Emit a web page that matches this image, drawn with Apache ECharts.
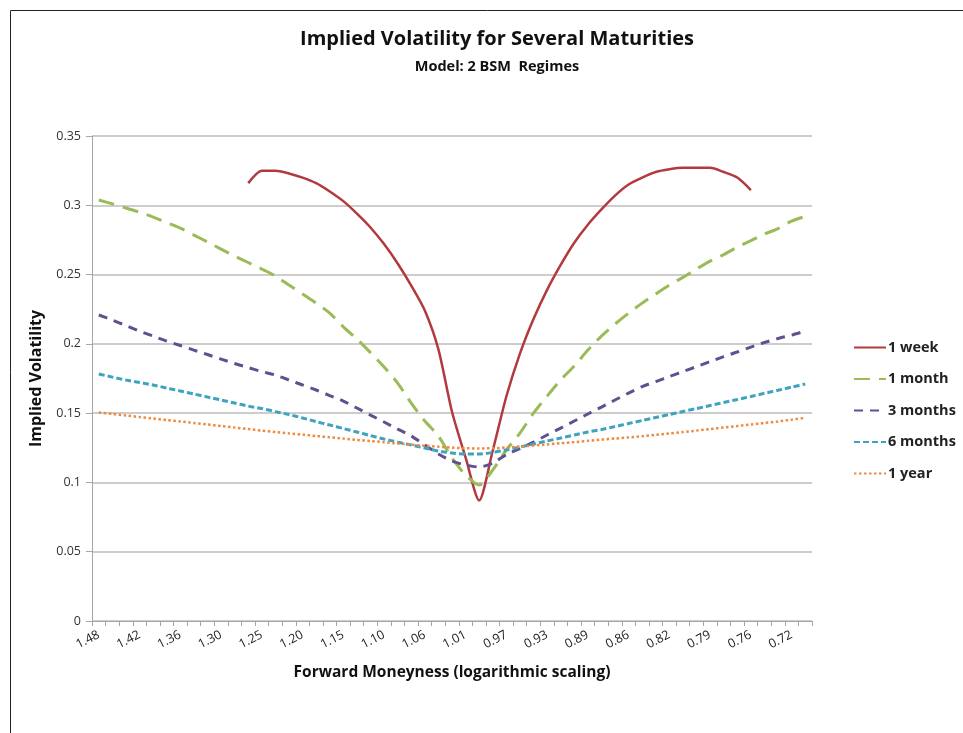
<!DOCTYPE html>
<html>
<head>
<meta charset="utf-8">
<script src="https://cdn.jsdelivr.net/npm/echarts@6/dist/echarts.min.js"></script>
<style>
  html, body { margin: 0; padding: 0; background: #fff; }
  #chart { width: 963px; height: 733px; }
</style>
</head>
<body>
<div id="chart"></div>
<script>
// forward moneyness, one entry per category (every third one is labelled)
var moneyness = [
  '1.48','1.46','1.44','1.42','1.40','1.38','1.36','1.34','1.32','1.30',
  '1.28','1.27','1.25','1.23','1.22','1.20','1.18','1.17','1.15','1.13',
  '1.12','1.10','1.09','1.07','1.06','1.04','1.03','1.01','1.00','0.99',
  '0.97','0.96','0.94','0.93','0.92','0.90','0.89','0.88','0.87','0.86',
  '0.84','0.83','0.82','0.81','0.80','0.79','0.78','0.77','0.76','0.74',
  '0.73','0.72','0.71'
];

var oneWeek = [
  null, null, null, null, null, null, null, null, null, null,
  null, 0.316, 0.325, 0.325, 0.323, 0.320, 0.316, 0.310, 0.303, 0.294,
  0.284, 0.272, 0.258, 0.242, 0.224, 0.196, 0.151, 0.118, 0.087, 0.123,
  0.162, 0.193, 0.218, 0.239, 0.257, 0.273, 0.286, 0.297, 0.307, 0.315,
  0.320, 0.324, 0.326, 0.327, 0.327, 0.327, 0.324, 0.320, 0.311, null,
  null, null, null
];

var oneMonth = [
  0.3038, 0.301, 0.298, 0.295, 0.2915, 0.2875, 0.2835, 0.2785, 0.2735, 0.2684,
  0.2634, 0.2587, 0.254, 0.249, 0.2424, 0.236, 0.2294, 0.2222, 0.2123, 0.2035,
  0.1937, 0.1833, 0.1717, 0.1573, 0.1443, 0.1335, 0.1176, 0.1053, 0.0981, 0.109,
  0.1234, 0.1356, 0.150, 0.1623, 0.174, 0.184, 0.1955, 0.2056, 0.2143, 0.2222,
  0.2294, 0.236, 0.2424, 0.248, 0.254, 0.2597, 0.2644, 0.2698, 0.2745, 0.2792,
  0.2832, 0.2886, 0.292
];

var threeMonths = [
  0.2208, 0.2172, 0.2132, 0.2092, 0.2056, 0.202, 0.1988, 0.1955, 0.1923, 0.189,
  0.1858, 0.1829, 0.18, 0.1775, 0.1739, 0.1703, 0.1667, 0.1627, 0.1587, 0.1537,
  0.1486, 0.1436, 0.1385, 0.1335, 0.127, 0.1205, 0.1154, 0.1126, 0.1111, 0.114,
  0.12, 0.1244, 0.1291, 0.1342, 0.1392, 0.1443, 0.1494, 0.1544, 0.1595, 0.1645,
  0.1692, 0.1728, 0.1764, 0.18, 0.1836, 0.1872, 0.1908, 0.1941, 0.1977, 0.201,
  0.2039, 0.2063, 0.2092
];

var sixMonths = [
  0.1782, 0.176, 0.1739, 0.1721, 0.1703, 0.1681, 0.166, 0.1638, 0.1616, 0.1595,
  0.1573, 0.1551, 0.1533, 0.1511, 0.149, 0.1465, 0.1439, 0.1414, 0.1389, 0.1364,
  0.1338, 0.1313, 0.1291, 0.127, 0.1248, 0.1227, 0.1212, 0.1205, 0.1205, 0.1216,
  0.1234, 0.1255, 0.1277, 0.1299, 0.132, 0.1342, 0.1364, 0.1382, 0.1403, 0.1425,
  0.1447, 0.1469, 0.149, 0.1512, 0.1533, 0.1555, 0.1577, 0.1598, 0.162, 0.1643,
  0.1665, 0.1688, 0.171
];

var oneYear = [
  0.1504, 0.1494, 0.1483, 0.1472, 0.1461, 0.145, 0.144, 0.1429, 0.1418, 0.1407,
  0.1396, 0.1385, 0.1374, 0.1364, 0.1354, 0.1345, 0.1335, 0.1326, 0.1317, 0.1307,
  0.1299, 0.129, 0.1281, 0.1273, 0.1265, 0.1258, 0.1251, 0.1247, 0.1245, 0.1247,
  0.1252, 0.1259, 0.1266, 0.1274, 0.1283, 0.1291, 0.13, 0.1309, 0.1317, 0.1325,
  0.1333, 0.1343, 0.1353, 0.1364, 0.1374, 0.1385, 0.1396, 0.1407, 0.1418, 0.1429,
  0.144, 0.1453, 0.1466
];

var seriesNames = ['1 week', '1 month', '3 months', '6 months', '1 year'];

var font = '"Open Sans", Lato, sans-serif';

var dom = document.getElementById('chart');
var myChart = echarts.init(dom, null, {renderer: 'canvas'});

function lineSeries(name, data, color, width, dash) {
  return {
    name: name,
    type: 'line',
    data: data,
    symbol: 'none',
    smooth: 0.25,
    connectNulls: false,
    animation: false,
    lineStyle: {color: color, width: width, type: dash},
    itemStyle: {color: color}
  };
}

var option = {
  backgroundColor: '#fff',
  animation: false,
  title: [
    {
      text: 'Implied Volatility for Several Maturities',
      left: 492, top: 24, textAlign: 'center',
      textStyle: {fontFamily: font, fontSize: 20, fontWeight: 'bold', color: '#111'}
    },
    {
      text: 'Model: 2 BSM  Regimes',
      left: 492, top: 54, textAlign: 'center',
      textStyle: {fontFamily: font, fontSize: 14.5, fontWeight: 'bold', color: '#111'}
    }
  ],
  graphic: [{
    type: 'rect',
    shape: {x: 10.5, y: 10.5, width: 980, height: 760},
    style: {fill: null, stroke: '#222', lineWidth: 1},
    silent: true
  }],
  legend: {
    data: seriesNames,
    orient: 'vertical',
    left: 848, top: 335,
    itemWidth: 32, itemHeight: 14, itemGap: 16.5,
    itemStyle: {opacity: 0},
    textStyle: {fontFamily: font, fontSize: 14.5, fontWeight: 'bold', color: '#222', padding: [0, 0, 0, -3]}
  },
  grid: {left: 92, right: 151, top: 136, bottom: 112},
  xAxis: {
    type: 'category',
    data: moneyness,
    boundaryGap: true,
    name: 'Forward Moneyness (logarithmic scaling)',
    nameLocation: 'middle',
    nameGap: 44,
    nameTextStyle: {fontFamily: font, fontSize: 15.5, fontWeight: 'bold', color: '#111'},
    axisLine: {lineStyle: {color: '#a6a6a6', width: 1}},
    axisTick: {show: true, interval: 0, length: 5, lineStyle: {color: '#a6a6a6'}},
    axisLabel: {interval: 2, rotate: 27, margin: 13, fontFamily: font, fontSize: 12.5, color: '#222'},
    splitLine: {show: false}
  },
  yAxis: {
    type: 'value',
    min: 0, max: 0.35, interval: 0.05,
    name: 'Implied Volatility',
    nameLocation: 'middle',
    nameRotate: 90,
    nameGap: 48,
    nameTextStyle: {fontFamily: font, fontSize: 16, fontWeight: 'bold', color: '#111'},
    axisLine: {show: true, lineStyle: {color: '#a6a6a6', width: 1}},
    axisTick: {show: true, length: 6, lineStyle: {color: '#a6a6a6'}},
    axisLabel: {margin: 11, fontFamily: font, fontSize: 12.5, color: '#333'},
    splitLine: {show: true, lineStyle: {color: '#bdbdbd', width: 1.5}}
  },
  series: [
    lineSeries('1 week', oneWeek, '#b23a3e', 2.5, 'solid'),
    lineSeries('1 month', oneMonth, '#9bbb59', 3, [16, 9]),
    lineSeries('3 months', threeMonths, '#634f8f', 3, [9, 7]),
    lineSeries('6 months', sixMonths, '#3ea3bf', 3, [6, 3]),
    lineSeries('1 year', oneYear, '#f08a3c', 2.5, [2.5, 2.5])
  ]
};

myChart.setOption(option, true);
</script>
</body>
</html>
